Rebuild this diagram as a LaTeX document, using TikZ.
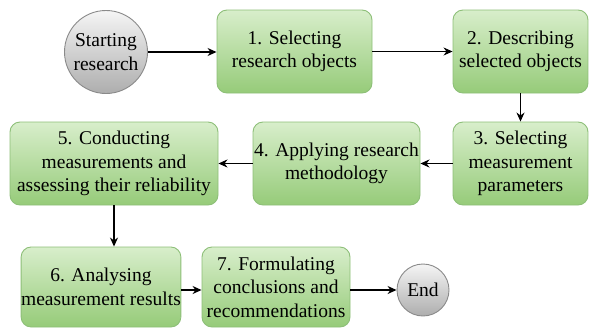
\documentclass[tikz,border=0pt]{standalone}
\usepackage{fontspec}
\setmainfont{Liberation Serif}
\newfontfamily\labelfont{Liberation Serif}
\usetikzlibrary{arrows.meta,shadings}
\definecolor{stepborder}{HTML}{8DBF78}
\definecolor{steptop}{HTML}{D8EECB}
\definecolor{stepbottom}{HTML}{96CB79}
\definecolor{termborder}{HTML}{8A8A8A}
\tikzset{
  x=1pt, y=-1pt,
  textstyle/.style={font=\labelfont\fontsize{19.5}{23.5}\selectfont},
  stepbox/.style={draw=stepborder, line width=0.9pt, rounded corners=10pt,
    top color=steptop, bottom color=stepbottom, align=center,
    inner sep=0pt, textstyle},
  termnode/.style={circle, draw=termborder, line width=0.9pt,
    top color=black!4, bottom color=black!32, shading angle=0,
    align=center, inner sep=0pt, textstyle},
  flow/.style={-{Stealth[length=9pt,width=8pt]}, line width=1.3pt, black}
}
\begin{document}
\begin{tikzpicture}
\useasboundingbox (0,0) rectangle (589,327);
% terminals
\node[termnode, minimum size=83pt] (s) at (106,52) {Starting\\research};
\node[termnode, minimum size=52pt] (e) at (423,290) {End};
% process steps
\node[stepbox, minimum width=155pt, minimum height=83pt] (b1) at (294.5,51.5) {1. Selecting\\research objects};
\node[stepbox, minimum width=135pt, minimum height=83pt] (b2) at (520.5,51.5) {2. Describing\\selected objects};
\node[stepbox, minimum width=135pt, minimum height=83pt] (b3) at (520.5,163.5) {3. Selecting\\measurement\\parameters};
\node[stepbox, minimum width=167pt, minimum height=83pt] (b4) at (336.5,163.5) {4. Applying research\\methodology};
\node[stepbox, minimum width=208pt, minimum height=83pt] (b5) at (114,163.5) {5. Conducting\\measurements and\\assessing their reliability};
\node[stepbox, minimum width=148pt, minimum height=80pt] (b6) at (101,287) {6. Analysing\\measurement results};
\node[stepbox, minimum width=148pt, minimum height=80pt] (b7) at (276,287) {7. Formulating\\conclusions and\\recommendations};
% connectors
\draw[flow] (s) -- (b1.west |- s);
\draw[flow] (b1) -- (b2);
\draw[flow] (b2) -- (b3);
\draw[flow] (b3) -- (b4);
\draw[flow] (b4) -- (b5);
\draw[flow] (b5.south) -- (b5.south |- b6.north);
\draw[flow] (b6.east |- e) -- (b7.west |- e);
\draw[flow] (b7.east |- e) -- (e);
\end{tikzpicture}
\end{document}
